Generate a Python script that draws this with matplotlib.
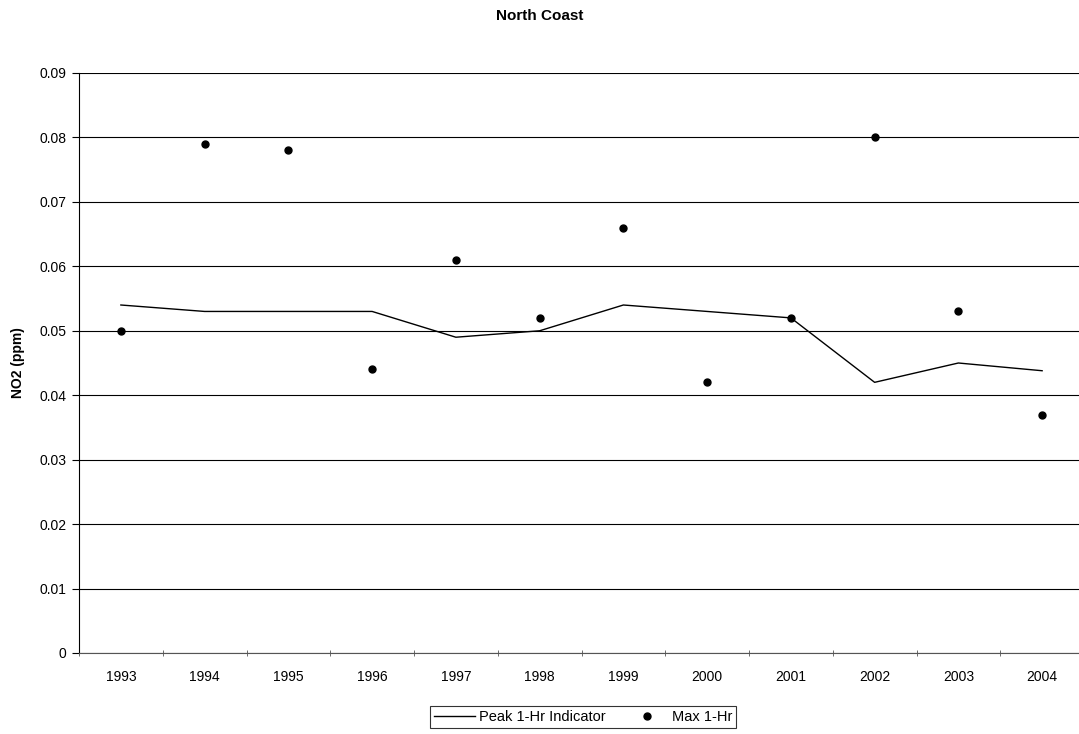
import matplotlib.pyplot as plt
import numpy as np

plt.rcParams['font.family'] = ['Liberation Sans', 'DejaVu Sans']

years = ['1993', '1994', '1995', '1996', '1997', '1998', '1999', '2000', '2001', '2002', '2003', '2004']
peak_indicator = [0.054, 0.053, 0.053, 0.053, 0.049, 0.050, 0.054, 0.053, 0.052, 0.042, 0.045, 0.0438]
max_1hr = [0.050, 0.079, 0.078, 0.044, 0.061, 0.052, 0.066, 0.042, 0.052, 0.080, 0.053, 0.037]

fig = plt.figure(figsize=(10.79, 7.34), dpi=100)
W, H = 1079, 734
# plot area in pixels: left 79, right past the edge, top 73, bottom 653
ax = fig.add_axes([79 / W, (H - 653) / H, (1084 - 79) / W, (653 - 73) / H])

x = np.arange(len(years))
ax.plot(x, peak_indicator, color='black', lw=1, label='Peak 1-Hr Indicator')
ax.plot(x, max_1hr, 'o', color='black', ms=5, ls='none', label='Max 1-Hr')

ax.set_xlim(-0.5, len(years) - 0.5)
ax.set_ylim(0, 0.09)
ax.set_yticks(np.arange(0, 0.091, 0.01))
ax.set_yticklabels(['0'] + ['%.2f' % v for v in np.arange(0.01, 0.091, 0.01)])
ax.yaxis.grid(True, color='black', lw=0.8)
ax.set_axisbelow(True)

ax.set_xticks(x)
ax.set_xticklabels(years)
ax.set_xticks(np.arange(-0.5, len(years), 1), minor=True)
ax.tick_params(axis='x', which='major', length=0, pad=12, labelsize=10)
ax.tick_params(axis='x', which='minor', length=4, direction='inout', color='#555555')
ax.tick_params(axis='y', length=5, labelsize=10, pad=4)

ax.spines['top'].set_visible(False)
ax.spines['right'].set_visible(False)
ax.spines['left'].set_color('black')
ax.spines['bottom'].set_color('#555555')

ax.set_ylabel('NO2 (ppm)', fontsize=10, fontweight='bold', labelpad=10)
fig.text(0.5, 1 - 16 / H, 'North Coast', ha='center', va='center', fontsize=11, fontweight='bold')

leg = fig.legend(loc='center', bbox_to_anchor=(583 / W, 1 - 717 / H), ncol=2, frameon=True,
                 fancybox=False, edgecolor='black', fontsize=10.5, handlelength=2.8,
                 handletextpad=0.3, columnspacing=1.4, borderpad=0.3)
leg.get_frame().set_linewidth(0.8)

fig.savefig('out.png', dpi=100)
